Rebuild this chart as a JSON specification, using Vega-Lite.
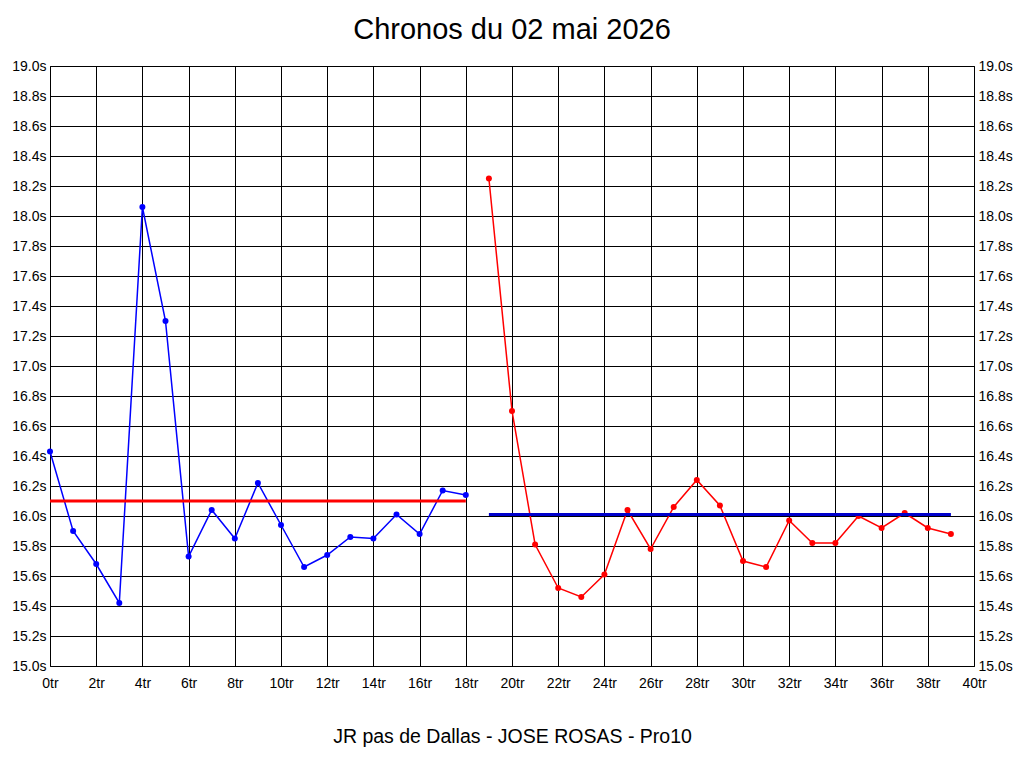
{
  "$schema": "https://vega.github.io/schema/vega-lite/v6.json",
  "width": 924,
  "height": 600,
  "autosize": {"type": "none"},
  "padding": {"left": 50, "top": 66, "right": 50, "bottom": 102},
  "background": "white",
  "title": {
    "text": "Chronos du 02 mai 2026",
    "font": "Liberation Sans",
    "fontSize": 29,
    "fontWeight": "normal",
    "color": "black",
    "anchor": "middle",
    "offset": 14
  },
  "config": {
    "view": {"stroke": "black", "strokeWidth": 1},
    "axis": {
      "labelFont": "Liberation Sans",
      "labelFontSize": 14,
      "labelColor": "black",
      "ticks": false,
      "tickSize": 0,
      "domain": false,
      "gridColor": "black",
      "gridOpacity": 1,
      "gridWidth": 1,
      "titleFont": "Liberation Sans",
      "titleFontWeight": "normal",
      "titleColor": "black"
    }
  },
  "datasets": {
    "chronos": [
      {"tour": 0, "temps": 16.43, "serie": "A"},
      {"tour": 1, "temps": 15.90, "serie": "A"},
      {"tour": 2, "temps": 15.68, "serie": "A"},
      {"tour": 3, "temps": 15.42, "serie": "A"},
      {"tour": 4, "temps": 18.06, "serie": "A"},
      {"tour": 5, "temps": 17.30, "serie": "A"},
      {"tour": 6, "temps": 15.73, "serie": "A"},
      {"tour": 7, "temps": 16.04, "serie": "A"},
      {"tour": 8, "temps": 15.85, "serie": "A"},
      {"tour": 9, "temps": 16.22, "serie": "A"},
      {"tour": 10, "temps": 15.94, "serie": "A"},
      {"tour": 11, "temps": 15.66, "serie": "A"},
      {"tour": 12, "temps": 15.74, "serie": "A"},
      {"tour": 13, "temps": 15.86, "serie": "A"},
      {"tour": 14, "temps": 15.85, "serie": "A"},
      {"tour": 15, "temps": 16.01, "serie": "A"},
      {"tour": 16, "temps": 15.88, "serie": "A"},
      {"tour": 17, "temps": 16.17, "serie": "A"},
      {"tour": 18, "temps": 16.14, "serie": "A"},
      {"tour": 19, "temps": 18.25, "serie": "B"},
      {"tour": 20, "temps": 16.70, "serie": "B"},
      {"tour": 21, "temps": 15.81, "serie": "B"},
      {"tour": 22, "temps": 15.52, "serie": "B"},
      {"tour": 23, "temps": 15.46, "serie": "B"},
      {"tour": 24, "temps": 15.61, "serie": "B"},
      {"tour": 25, "temps": 16.04, "serie": "B"},
      {"tour": 26, "temps": 15.78, "serie": "B"},
      {"tour": 27, "temps": 16.06, "serie": "B"},
      {"tour": 28, "temps": 16.24, "serie": "B"},
      {"tour": 29, "temps": 16.07, "serie": "B"},
      {"tour": 30, "temps": 15.70, "serie": "B"},
      {"tour": 31, "temps": 15.66, "serie": "B"},
      {"tour": 32, "temps": 15.97, "serie": "B"},
      {"tour": 33, "temps": 15.82, "serie": "B"},
      {"tour": 34, "temps": 15.82, "serie": "B"},
      {"tour": 35, "temps": 16.00, "serie": "B"},
      {"tour": 36, "temps": 15.92, "serie": "B"},
      {"tour": 37, "temps": 16.02, "serie": "B"},
      {"tour": 38, "temps": 15.92, "serie": "B"},
      {"tour": 39, "temps": 15.88, "serie": "B"}
    ],
    "moyennes": [
      {"debut": 0, "fin": 18, "temps": 16.10, "serie": "Moyenne A"},
      {"debut": 19, "fin": 39, "temps": 16.01, "serie": "Moyenne B"}
    ]
  },
  "layer": [
    {
      "data": {"name": "chronos"},
      "mark": {"type": "line", "strokeWidth": 1.5},
      "encoding": {
        "x": {
          "field": "tour",
          "type": "quantitative",
          "scale": {"domain": [0, 40], "nice": false},
          "axis": {
            "values": [0, 2, 4, 6, 8, 10, 12, 14, 16, 18, 20, 22, 24, 26, 28, 30, 32, 34, 36, 38, 40],
            "labelExpr": "datum.value + 'tr'",
            "labelPadding": 10,
            "labelFlush": false,
            "labelOverlap": false,
            "grid": true,
            "title": "JR pas de Dallas - JOSE ROSAS - Pro10",
            "titleFontSize": 19.5,
            "titlePadding": 37
          }
        },
        "y": {
          "field": "temps",
          "type": "quantitative",
          "scale": {"domain": [15, 19], "nice": false, "zero": false},
          "axis": {
            "orient": "left",
            "values": [15, 15.2, 15.4, 15.6, 15.8, 16, 16.2, 16.4, 16.6, 16.8, 17, 17.2, 17.4, 17.6, 17.8, 18, 18.2, 18.4, 18.6, 18.8, 19],
            "labelExpr": "format(datum.value, '.1f') + 's'",
            "labelPadding": 4,
            "labelFlush": false,
            "labelOverlap": false,
            "grid": true,
            "title": null
          }
        },
        "color": {
          "field": "serie",
          "type": "nominal",
          "scale": {"domain": ["A", "B", "Moyenne A", "Moyenne B"], "range": ["#0000ff", "#ff0000", "#ff0000", "#0000cc"]},
          "legend": null
        }
      }
    },
    {
      "data": {"name": "chronos"},
      "mark": {"type": "point", "filled": true, "opacity": 1, "size": 36},
      "encoding": {
        "x": {"field": "tour", "type": "quantitative"},
        "y": {
          "field": "temps",
          "type": "quantitative",
          "axis": {
            "orient": "right",
            "values": [15, 15.2, 15.4, 15.6, 15.8, 16, 16.2, 16.4, 16.6, 16.8, 17, 17.2, 17.4, 17.6, 17.8, 18, 18.2, 18.4, 18.6, 18.8, 19],
            "labelExpr": "format(datum.value, '.1f') + 's'",
            "labelPadding": 4,
            "labelFlush": false,
            "labelOverlap": false,
            "grid": false,
            "title": null
          }
        },
        "color": {"field": "serie", "type": "nominal", "legend": null}
      }
    },
    {
      "data": {"name": "moyennes"},
      "mark": {"type": "rule", "strokeWidth": 3},
      "encoding": {
        "x": {"field": "debut", "type": "quantitative"},
        "x2": {"field": "fin"},
        "y": {"field": "temps", "type": "quantitative", "axis": null},
        "color": {"field": "serie", "type": "nominal", "legend": null}
      }
    }
  ],
  "resolve": {"axis": {"y": "independent"}}
}
